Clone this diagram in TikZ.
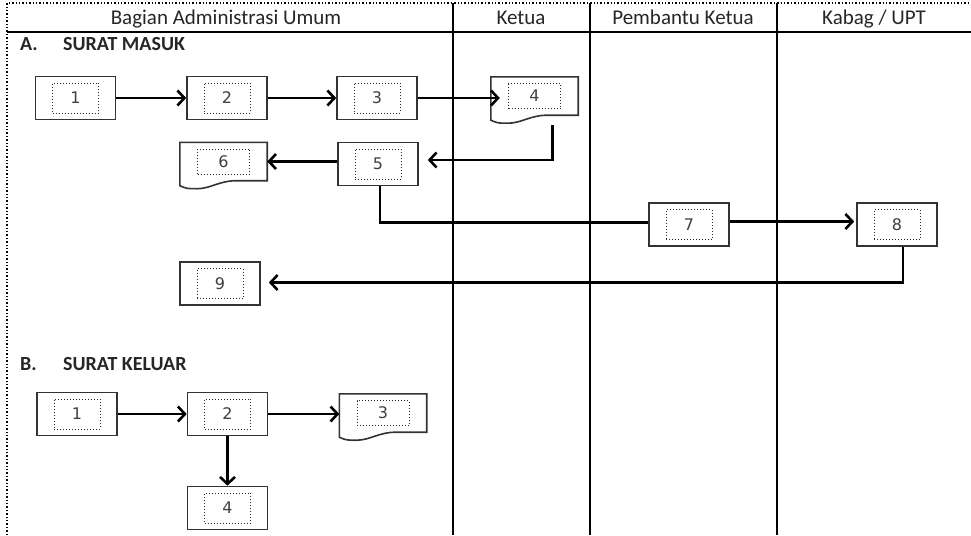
\documentclass[tikz,border=0pt]{standalone}
\usepackage{fontspec}
\setmainfont{Carlito}
\newfontfamily\numfont{DejaVu Sans}
\usetikzlibrary{arrows.meta,calc}

\tikzset{
 procbox/.style={draw=black!80, line width=1.6pt, fill=white, rectangle, minimum width=80pt, minimum height=43pt, inner sep=0pt},
 docbox/.style={rectangle, minimum width=87pt, minimum height=38pt, inner sep=0pt},
 innerbox/.style={draw=black!85, dotted, line width=1pt, rectangle, minimum width=46pt, minimum height=30pt, inner sep=0pt, font=\numfont\fontsize{16}{16}\selectfont, text=black!75},
 innerdoc/.style={innerbox, minimum width=52pt, minimum height=25pt},
 conn/.style={line width=2.6pt, black},
 arr/.style={conn, -{Straight Barb[length=7pt,width=15pt]}},
 lane/.style={line width=1.1pt, black},
 hdr/.style={font=\fontsize{21}{21}\selectfont, text=black!85, text height=14pt, text depth=4pt, inner sep=0pt},
 sect/.style={font=\bfseries\fontsize{20}{20}\selectfont, anchor=west, inner sep=0pt, text=black!85}
}

\newcommand\docshape[1]{\draw[draw=black!80,line width=1.6pt,fill=white]
 (#1.north west) -- (#1.north east) -- (#1.south east)
 -- ($(#1.south west)!0.65!(#1.south east)$)
 .. controls ($(#1.south west)!0.45!(#1.south east)$) and ($(#1.south west)!0.35!(#1.south east)+(0,8)$)
 .. ($(#1.south west)!0.2!(#1.south east)+(0,8)$)
 .. controls ($(#1.south west)!0.08!(#1.south east)+(0,8)$)
 .. ($(#1.south west)+(0,5)$) -- cycle;}
\newcommand\pbox[4]{\node[procbox] (#1) at (#2,#3) {}; \node[innerbox] (#1i) at (#1.center) {#4};}
\newcommand\dbox[4]{\node[docbox] (#1) at (#2,#3) {}; \docshape{#1} \node[innerdoc] (#1i) at (#1.center) {#4};}

\begin{document}
\begin{tikzpicture}[x=1pt,y=-1pt]
\useasboundingbox (0,0) rectangle (971,535);
% frame and lanes
\draw[dotted, line width=1.4pt] (7,535) -- (7,3) -- (971,3);
\draw[lane] (7,32) -- (971,32);
\draw[lane] (453,3) -- (453,535);
\draw[lane] (590,3) -- (590,535);
\draw[lane] (777,3) -- (777,535);
% headers
\node[hdr] (h1) at (226,20) {Bagian Administrasi Umum};
\node[hdr] (h2) at (521,20) {Ketua};
\node[hdr] (h3) at (683,20) {Pembantu Ketua};
\node[hdr] (h4) at (874,20) {Kabag / UPT};
% sections
\node[sect] (sa) at (20,44) {A.};
\node[sect] (sat) at (63,44) {SURAT MASUK};
\node[sect] (sb) at (20,364) {B.};
\node[sect] (sbt) at (63,364) {SURAT KELUAR};
% A boxes
\pbox{a1}{75.5}{98}{1}
\pbox{a2}{227}{98}{2}
\pbox{a3}{377}{98}{3}
\dbox{a4}{534.5}{96}{4}
\pbox{a5}{378}{164}{5}
\dbox{a6}{223.5}{161.5}{6}
\pbox{a7}{689}{224.5}{7}
\pbox{a8}{897}{224.5}{8}
\pbox{a9}{220}{283.5}{9}
% B boxes
\pbox{b1}{77}{414}{1}
\pbox{b2}{227.5}{414}{2}
\dbox{b3}{383}{413}{3}
\pbox{b4}{227.5}{508}{4}
% A connectors
\draw[arr] (a1.east) -- (a2.west);
\draw[arr] (a2.east) -- (a3.west);
\draw[arr] (a3.east) -- ($(a3.east -| a4.west)+(9,0)$);
\draw[arr] ($(a4.south)+(18,10)$) |- ($(a5.east)+(9,-4)$);
\draw[arr] (a5.west |- a6.center) -- (a6.east);
\draw[conn] ($(a5.south)+(2,0)$) |- ($(a7.west)+(0,-2)$);
\draw[arr] ($(a7.east)+(0,-3)$) -- ($(a8.west)+(-2,-3)$);
\draw[arr] ($(a8.south)+(6,0)$) |- ($(a9.east)+(8,-1)$);
% B connectors
\draw[arr] (b1.east) -- (b2.west);
\draw[arr] (b2.east) -- (b2.east -| b3.west);
\draw[arr] (b2.south) -- (b4.north);
\end{tikzpicture}
\end{document}
